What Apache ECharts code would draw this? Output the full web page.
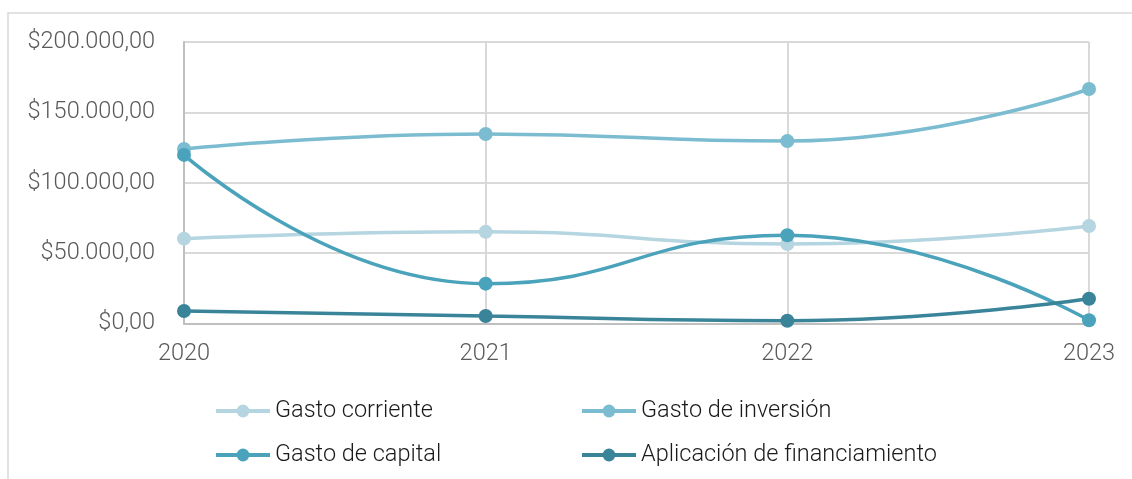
<!DOCTYPE html>
<html>
<head>
<meta charset="utf-8">
<script src="https://cdn.jsdelivr.net/npm/echarts@6/dist/echarts.min.js"></script>
<style>
  html, body { margin: 0; padding: 0; background: #fff; }
  #chart { width: 1132px; height: 479px; }
</style>
</head>
<body>
<div id="chart"></div>
<script>
const years = ["2020", "2021", "2022", "2023"];
const gastoCorriente = [60300, 65100, 56500, 69300];
const gastoInversion = [124000, 134600, 129600, 166600];
const gastoCapital = [119800, 28300, 62700, 2300];
const aplicacionFinanciamiento = [8900, 5300, 2000, 17600];

const seriesNames = ["Gasto corriente", "Gasto de inversión", "Gasto de capital", "Aplicación de financiamiento"];
const colors = ["#b5d5e0", "#7bbcd0", "#4aa3bb", "#3a8499"];

function formatMoney(v) {
  const s = Math.round(v).toString().replace(/\B(?=(\d{3})+(?!\d))/g, ".");
  return "$" + s + ",00";
}

function lineSeries(name, data, color) {
  return {
    name: name,
    type: "line",
    smooth: true,
    data: data,
    symbol: "circle",
    symbolSize: 14,
    lineStyle: { width: 3.5, color: color },
    itemStyle: { color: color },
  };
}

const chart = echarts.init(document.getElementById("chart"));

const legendText = { fontFamily: "Roboto", fontSize: 23.5, fontWeight: 300, color: "#1a1a1a" };

const legendBase = {
  orient: "vertical",
  top: 394,
  itemWidth: 54,
  itemHeight: 16,
  itemGap: 20,
  lineStyle: { width: 4 },
  textStyle: legendText,
};

chart.setOption({
  animation: false,
  color: colors,
  textStyle: { fontFamily: "Roboto" },
  graphic: [
    {
      type: "polyline",
      shape: { points: [[8, 479], [8, 13], [1132, 13]] },
      style: { stroke: "#d9d9d9", lineWidth: 1.5, fill: null },
    },
  ],
  grid: {
    left: 184,
    right: 43,
    top: 42,
    bottom: 155.5,
  },
  legend: [
    Object.assign({}, legendBase, { data: [seriesNames[0], seriesNames[2]], left: 209 }),
    Object.assign({}, legendBase, { data: [seriesNames[1], seriesNames[3]], left: 575 }),
  ],
  xAxis: {
    type: "category",
    data: years,
    boundaryGap: false,
    axisLine: { lineStyle: { color: "#bfbfbf", width: 2 } },
    axisTick: { show: false },
    axisLabel: { fontSize: 23.5, fontWeight: 300, color: "#595959", margin: 19 },
    splitLine: { show: true, lineStyle: { color: "#d9d9d9", width: 2 } },
  },
  yAxis: {
    type: "value",
    min: 0,
    max: 200000,
    interval: 50000,
    axisLine: { show: true, lineStyle: { color: "#bfbfbf", width: 2 } },
    axisTick: { show: false },
    axisLabel: {
      fontSize: 23.5,
      fontWeight: 300,
      color: "#595959",
      margin: 29,
      formatter: formatMoney,
    },
    splitLine: { lineStyle: { color: "#d9d9d9", width: 2 } },
  },
  series: [
    lineSeries(seriesNames[0], gastoCorriente, colors[0]),
    lineSeries(seriesNames[1], gastoInversion, colors[1]),
    lineSeries(seriesNames[2], gastoCapital, colors[2]),
    lineSeries(seriesNames[3], aplicacionFinanciamiento, colors[3]),
  ],
});
</script>
</body>
</html>
